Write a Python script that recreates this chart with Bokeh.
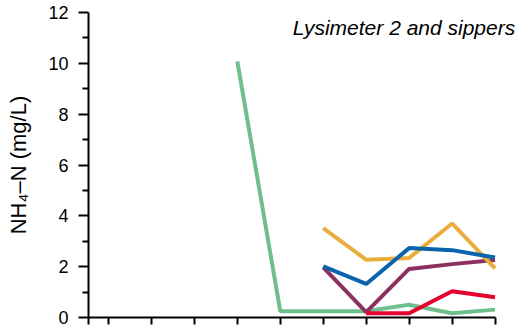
from bokeh.plotting import figure
from bokeh.models import FixedTicker, Range1d, Label
from bokeh.embed import file_html
from bokeh.resources import INLINE

# sampling positions (tick index along the time axis)
x_ticks = [0.535, 1, 2, 3, 4, 5, 6, 7, 8, 9, 10]
y_major = [0, 2, 4, 6, 8, 10, 12]
y_minor = [1, 3, 5, 7, 9, 11]

lys_x = [4, 5, 6, 7, 8, 9, 10]
lys_nh4 = [10.08, 0.25, 0.25, 0.25, 0.5, 0.17, 0.31]

sip_x = [6, 7, 8, 9, 10]
sip_orange = [3.52, 2.27, 2.34, 3.7, 1.93]
sip_blue = [2.01, 1.32, 2.73, 2.65, 2.36]
sip_purple = [1.97, 0.21, 1.91, 2.1, 2.26]

red_x = [7, 8, 9, 10]
sip_red = [0.17, 0.17, 1.03, 0.8]

title_text = "Lysimeter 2 and sippers"
y_label = "NH\u2084\u2013N (mg/L)"

p = figure(width=521, height=330, output_backend="svg", toolbar_location=None,
           x_range=Range1d(0.535, 10.5), y_range=Range1d(0, 12),
           min_border_left=88, min_border_right=5, min_border_top=12, min_border_bottom=13)
p.outline_line_color = None
p.xgrid.grid_line_color = None
p.ygrid.grid_line_color = None
p.background_fill_color = "white"

FONT = "Liberation Sans"

# y axis
ya = p.yaxis[0]
ya.ticker = FixedTicker(ticks=y_major, minor_ticks=y_minor)
ya.axis_line_width = 2
ya.major_tick_line_width = 2
ya.minor_tick_line_width = 2
ya.major_tick_out = 10
ya.major_tick_in = 0
ya.minor_tick_out = 6
ya.minor_tick_in = 0
ya.major_label_text_font = FONT
ya.major_label_text_font_size = "18px"
ya.major_label_text_color = "black"
ya.major_label_standoff = 10
ya.axis_label = y_label
ya.axis_label_text_font = FONT
ya.axis_label_text_font_size = "22px"
ya.axis_label_text_font_style = "normal"
ya.axis_label_text_color = "black"
ya.axis_label_standoff = 14

# x axis
xa = p.xaxis[0]
xa.ticker = FixedTicker(ticks=x_ticks, minor_ticks=[])
xa.bounds = (x_ticks[0], x_ticks[-1])
xa.axis_line_width = 2
xa.major_tick_line_width = 2
xa.major_tick_out = 7
xa.major_tick_in = 0
xa.minor_tick_out = 0
xa.major_label_text_font_size = "0px"
xa.major_label_overrides = {t: "" for t in x_ticks}
xa.major_label_standoff = 0

W = 4
p.line(lys_x, lys_nh4, line_color="#6fbf8e", line_width=W)
p.line(sip_x, sip_purple, line_color="#8c3060", line_width=W)
p.line(sip_x, sip_orange, line_color="#e9ae3e", line_width=W)
p.line(sip_x, sip_blue, line_color="#0a64ad", line_width=W)
p.line(red_x, sip_red, line_color="#e4032e", line_width=W)

p.add_layout(Label(x=10.47, y=11.42, text=title_text, text_align="right",
                   text_baseline="middle", text_font=FONT, text_font_size="21px",
                   text_font_style="italic", text_color="black"))

open("out.html", "w").write(file_html(p, INLINE))
